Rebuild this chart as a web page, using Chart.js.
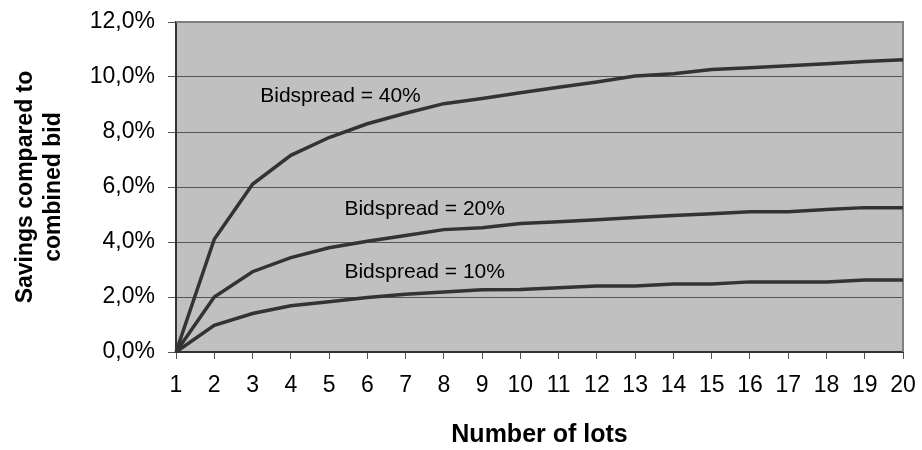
<!DOCTYPE html>
<html lang="en">
<head>
    <meta charset="UTF-8">
    <title>Savings vs number of lots</title>
    <script src="https://cdn.jsdelivr.net/npm/chart.js"></script>
    <style>
        html, body { margin: 0; padding: 0; background: #ffffff; }
        #wrap { width: 922px; height: 450px; position: relative; }
    </style>
</head>
<body>
    <div id="wrap"><canvas id="savingsChart" width="922" height="450"></canvas></div>
    <script>
        // Number of lots (x categories)
        const lots = ['1','2','3','4','5','6','7','8','9','10','11','12','13','14','15','16','17','18','19','20'];

        // Savings compared to combined bid, in percent
        const spread40 = [0, 4.1, 6.1, 7.15, 7.8, 8.3, 8.68, 9.03, 9.22, 9.43, 9.63, 9.82, 10.04, 10.12, 10.27, 10.34, 10.41, 10.48, 10.56, 10.63];
        const spread20 = [0, 2.0, 2.92, 3.43, 3.79, 4.03, 4.24, 4.45, 4.52, 4.67, 4.74, 4.81, 4.89, 4.96, 5.03, 5.1, 5.1, 5.18, 5.25, 5.25];
        const spread10 = [0, 0.97, 1.4, 1.68, 1.83, 1.98, 2.1, 2.18, 2.26, 2.27, 2.34, 2.4, 2.4, 2.47, 2.47, 2.55, 2.55, 2.55, 2.62, 2.62];

        // Y axis ticks
        const yTicks = [0, 2, 4, 6, 8, 10, 12];

        // Series text labels placed in data units (lot index, percent)
        const seriesNames = ['Bidspread = 40%', 'Bidspread = 20%', 'Bidspread = 10%'];
        const nameLots = [5.3, 7.5, 7.5];
        const namePct = [9.3, 5.2, 2.9];

        const lineColor = '#333333';
        const fontFamily = '"Liberation Sans", Arial, sans-serif';

        // paints the grey plot area and its frame
        const plotBackground = {
            id: 'plotBackground',
            beforeDraw(chart) {
                const a = chart.chartArea;
                const ctx = chart.ctx;
                ctx.save();
                ctx.fillStyle = '#c0c0c0';
                ctx.fillRect(a.left, a.top, a.right - a.left, a.bottom - a.top);
                ctx.restore();
            },
            beforeDatasetsDraw(chart) {
                const a = chart.chartArea;
                const ctx = chart.ctx;
                ctx.save();
                ctx.strokeStyle = '#808080';
                ctx.lineWidth = 2;
                ctx.beginPath();
                ctx.moveTo(a.left, a.top);
                ctx.lineTo(a.right, a.top);
                ctx.lineTo(a.right, a.bottom);
                ctx.stroke();
                ctx.restore();
            }
        };

        // writes the "Bidspread = ..." labels next to the curves
        const seriesLabels = {
            id: 'seriesLabels',
            afterDatasetsDraw(chart) {
                const ctx = chart.ctx;
                const xs = chart.scales.x;
                const ys = chart.scales.y;
                ctx.save();
                ctx.fillStyle = '#000000';
                ctx.font = '21px ' + fontFamily;
                ctx.textAlign = 'center';
                ctx.textBaseline = 'middle';
                seriesNames.forEach((name, i) => {
                    const px = xs.getPixelForValue(nameLots[i] - 1);
                    const py = ys.getPixelForValue(namePct[i]);
                    ctx.fillText(name, px, py);
                });
                ctx.restore();
            }
        };

        function makeSet(label, values) {
            return {
                label: label,
                data: values,
                borderColor: lineColor,
                borderWidth: 3.5,
                pointRadius: 0,
                tension: 0,
                fill: false
            };
        }

        const ctx = document.getElementById('savingsChart').getContext('2d');
        new Chart(ctx, {
            type: 'line',
            data: {
                labels: lots,
                datasets: [
                    makeSet(seriesNames[0], spread40),
                    makeSet(seriesNames[1], spread20),
                    makeSet(seriesNames[2], spread10)
                ]
            },
            plugins: [plotBackground, seriesLabels],
            options: {
                responsive: false,
                animation: false,
                layout: { padding: { top: 22, right: 19, left: 0, bottom: 0 } },
                plugins: {
                    legend: { display: false },
                    tooltip: { enabled: false }
                },
                scales: {
                    x: {
                        offset: false,
                        afterFit(scale) {
                            // fixed band under the plot, no extra room for end labels
                            scale.height = 98;
                            scale.paddingLeft = 0;
                            scale.paddingRight = 0;
                        },
                        grid: {
                            drawOnChartArea: false,
                            drawTicks: true,
                            tickLength: 7,
                            color: '#555555',
                            lineWidth: 1
                        },
                        border: { color: '#333333', width: 2 },
                        ticks: {
                            color: '#000000',
                            padding: 13,
                            maxRotation: 0,
                            autoSkip: false,
                            font: { family: fontFamily, size: 23 }
                        },
                        title: {
                            display: true,
                            text: 'Number of lots',
                            color: '#000000',
                            padding: { top: 12, bottom: 0 },
                            font: { family: fontFamily, size: 25, weight: 'bold' }
                        }
                    },
                    y: {
                        min: 0,
                        max: 12,
                        afterFit(scale) {
                            scale.width = 176;
                            scale.paddingTop = 0;
                            scale.paddingBottom = 0;
                        },
                        afterBuildTicks(scale) {
                            scale.ticks = yTicks.map(v => ({ value: v }));
                        },
                        grid: {
                            drawTicks: true,
                            tickLength: 8,
                            color: '#555555',
                            lineWidth: 1
                        },
                        border: { color: '#333333', width: 2 },
                        ticks: {
                            color: '#000000',
                            padding: 13,
                            font: { family: fontFamily, size: 23 },
                            callback: v => v.toFixed(1).replace('.', ',') + '%'
                        },
                        title: {
                            display: true,
                            text: ['Savings compared to', 'combined bid'],
                            color: '#000000',
                            padding: { top: 12, bottom: 0 },
                            font: { family: fontFamily, size: 23, weight: 'bold', lineHeight: 1.22 }
                        }
                    }
                }
            }
        });
    </script>
</body>
</html>
